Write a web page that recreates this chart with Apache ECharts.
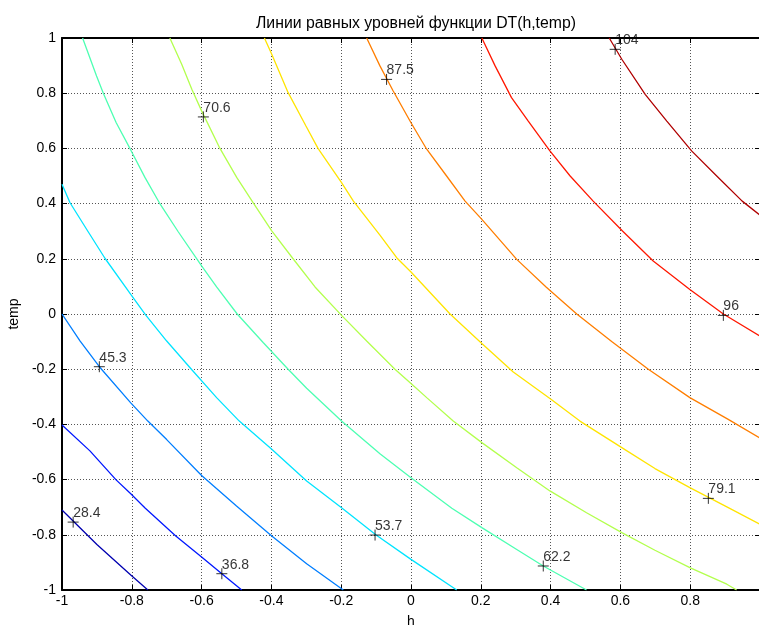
<!DOCTYPE html>
<html>
<head>
<meta charset="utf-8">
<script src="https://cdn.jsdelivr.net/npm/echarts@6/dist/echarts.min.js"></script>
<style>
html, body { margin: 0; padding: 0; background: #fff; }
#chart { width: 759px; height: 625px; }
</style>
</head>
<body>
<div id="chart"></div>
<script>
// contour levels
const levels = [28.4, 36.8, 45.3, 53.7, 62.2, 70.6, 79.1, 87.5, 96, 104];

// contour lines, [h, temp]
const contour28 = [[-1, -0.71], [-0.9, -0.835], [-0.803, -0.946], [-0.754, -1]];
const contour36 = [[-1, -0.402], [-0.92, -0.496], [-0.845, -0.601], [-0.803, -0.651], [-0.762, -0.703], [-0.674, -0.804], [-0.6, -0.88], [-0.542, -0.941], [-0.485, -1]];
const contour45 = [[-1, 0], [-0.948, -0.098], [-0.893, -0.191], [-0.803, -0.322], [-0.754, -0.388], [-0.7, -0.455], [-0.6, -0.585], [-0.5, -0.696], [-0.399, -0.804], [-0.299, -0.905], [-0.194, -1]];
const contour53 = [[-1, 0.47], [-0.977, 0.403], [-0.925, 0.298], [-0.877, 0.202], [-0.803, 0.071], [-0.76, -0.004], [-0.7, -0.098], [-0.628, -0.202], [-0.557, -0.303], [-0.492, -0.388], [-0.399, -0.49], [-0.299, -0.605], [-0.199, -0.702], [-0.1, -0.801], [0, -0.889], [0.131, -1]];
const contour62 = [[-0.941, 1], [-0.901, 0.862], [-0.881, 0.798], [-0.845, 0.694], [-0.805, 0.599], [-0.762, 0.494], [-0.721, 0.403], [-0.667, 0.298], [-0.6, 0.174], [-0.557, 0.098], [-0.498, 0], [-0.423, -0.104], [-0.352, -0.2], [-0.299, -0.269], [-0.199, -0.388], [-0.089, -0.506], [0, -0.593], [0.117, -0.704], [0.203, -0.774], [0.303, -0.853], [0.379, -0.913], [0.503, -1]];
const contour70 = [[-0.691, 1], [-0.657, 0.905], [-0.628, 0.814], [-0.6, 0.736], [-0.547, 0.599], [-0.499, 0.494], [-0.452, 0.403], [-0.399, 0.301], [-0.339, 0.202], [-0.275, 0.098], [-0.199, -0.005], [-0.127, -0.098], [-0.046, -0.2], [0, -0.252], [0.045, -0.303], [0.121, -0.388], [0.203, -0.466], [0.303, -0.557], [0.398, -0.641], [0.503, -0.72], [0.604, -0.792], [0.699, -0.856], [0.799, -0.919], [0.905, -0.979], [0.933, -1]];
const contour79 = [[-0.42, 1], [-0.399, 0.941], [-0.352, 0.802], [-0.301, 0.681], [-0.266, 0.599], [-0.199, 0.476], [-0.165, 0.409], [-0.089, 0.286], [-0.041, 0.204], [0, 0.152], [0.04, 0.098], [0.112, 0], [0.203, -0.107], [0.293, -0.21], [0.401, -0.309], [0.484, -0.388], [0.604, -0.484], [0.699, -0.56], [0.799, -0.629], [0.905, -0.699], [1, -0.762]];
const contour87 = [[-0.127, 1], [-0.089, 0.899], [-0.051, 0.808], [0, 0.693], [0.045, 0.597], [0.102, 0.5], [0.155, 0.409], [0.203, 0.343], [0.303, 0.198], [0.387, 0.098], [0.475, 0], [0.575, -0.1], [0.68, -0.2], [0.799, -0.303], [0.909, -0.382], [1, -0.45]];
const contour96 = [[0.203, 1], [0.241, 0.899], [0.288, 0.784], [0.336, 0.699], [0.398, 0.591], [0.456, 0.5], [0.522, 0.409], [0.606, 0.301], [0.694, 0.192], [0.799, 0.089], [0.895, 0], [1, -0.08]];
const contour104 = [[0.568, 1], [0.604, 0.923], [0.671, 0.796], [0.733, 0.699], [0.804, 0.591], [0.876, 0.5], [0.949, 0.409], [1, 0.358]];

const contours = [contour28, contour36, contour45, contour53, contour62, contour70, contour79, contour87, contour96, contour104];

// where the level labels sit
const labelH = [-0.968, -0.542, -0.893, -0.103, 0.379, -0.595, 0.852, -0.07, 0.895, 0.585];
const labelTemp = [-0.754, -0.941, -0.191, -0.801, -0.913, 0.714, -0.668, 0.85, -0.005, 0.959];
const labelText = ['28.4', '36.8', '45.3', '53.7', '62.2', '70.6', '79.1', '87.5', '96', '104'];

// jet colours
const jet = ['#0000b0', '#0017ff', '#007eff', '#00e4ff', '#4dffb2', '#b3ff4d', '#ffe400', '#ff7e00', '#ff1700', '#b00000'];

const chart = echarts.init(document.getElementById('chart'));

const font = 'Liberation Sans, Arial, sans-serif';
const gridLine = { show: true, lineStyle: { color: '#555', type: [1, 2], width: 1 } };
const spine = { show: true, onZero: false, lineStyle: { color: '#000', width: 2 } };
const tick = { show: true, inside: true, length: 5, lineStyle: { color: '#000' } };

let series = contours.map(function (pts, i) {
  return {
    name: String(levels[i]),
    type: 'line',
    data: pts,
    showSymbol: false,
    symbol: 'none',
    lineStyle: { color: jet[i], width: 1.3 },
    animation: false,
    z: 2
  };
});

series.push({
  type: 'scatter',
  data: labelH.map(function (h, i) { return [h, labelTemp[i], labelText[i]]; }),
  symbol: 'path://M0,5L10,5M5,0L5,10',
  symbolSize: 11,
  itemStyle: { color: 'none', borderColor: '#000', borderWidth: 1 },
  label: {
    show: true,
    formatter: function (p) { return p.data[2]; },
    position: [8, -8],
    align: 'left',
    verticalAlign: 'top',
    color: '#000',
    fontSize: 14,
    fontFamily: font
  },
  animation: false,
  z: 5
});

const option = {
  backgroundColor: '#fff',
  title: {
    text: 'Линии равных уровней функции DT(h,temp)',
    left: 411,
    textAlign: 'center',
    top: 11,
    textStyle: { fontSize: 15.8, fontWeight: 'normal', color: '#000', fontFamily: font }
  },
  grid: { left: 62, top: 38, width: 698, height: 552, containLabel: false, outerBoundsMode: 'none' },
  xAxis: [
    {
      type: 'value', min: -1, max: 1, interval: 0.2,
      name: 'h', nameLocation: 'middle', nameGap: 25,
      nameTextStyle: { fontSize: 14, color: '#000', fontFamily: font },
      axisLine: spine, axisTick: tick, splitLine: gridLine,
      axisLabel: { color: '#000', fontSize: 14, margin: 4, fontFamily: font, showMaxLabel: false }
    },
    {
      type: 'value', min: -1, max: 1, interval: 0.2, position: 'top',
      axisLine: spine, axisTick: tick, splitLine: { show: false },
      axisLabel: { show: false }
    }
  ],
  yAxis: [
    {
      type: 'value', min: -1, max: 1, interval: 0.2,
      name: 'temp', nameLocation: 'middle', nameGap: 34,
      nameTextStyle: { fontSize: 14, color: '#000', fontFamily: font },
      axisLine: spine, axisTick: tick, splitLine: gridLine,
      axisLabel: { color: '#000', fontSize: 14, margin: 6, fontFamily: font }
    },
    {
      type: 'value', min: -1, max: 1, interval: 0.2, position: 'right',
      axisLine: spine, axisTick: tick, splitLine: { show: false },
      axisLabel: { show: false }
    }
  ],
  series: series
};

chart.setOption(option);
</script>
</body>
</html>
